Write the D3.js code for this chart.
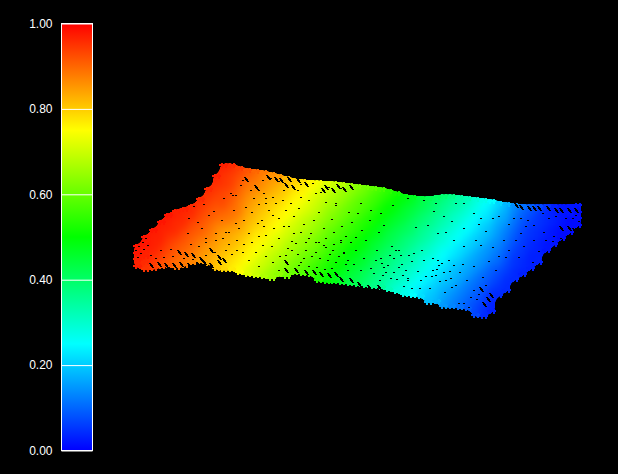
<!DOCTYPE html>
<html>
<head>
<meta charset="utf-8">
<script src="https://cdnjs.cloudflare.com/ajax/libs/d3/7.8.5/d3.min.js"></script>
<style>
    html, body { margin: 0; padding: 0; background: #000; overflow: hidden; }
    svg { display: block; }
</style>
</head>
<body>
<div class="chart"></div>
<script>
const barTicks = [0, 0.2, 0.4, 0.6, 0.8, 1];
const colorDomain = [0, 0.25, 0.5, 0.75, 1];
const colorStops = ['#0000ff', '#00ffff', '#00ff00', '#ffff00', '#ff0000'];

// height (above the lowest point) of the first sample of every scan column
const scanTop = [71,80,87,95,102,106,108,111,118,128,141,152,152,149,147,146,145,143,141,139,137,136,135,135,134,134,133,132,131,130,129,128,126,124,121,120,119,119,120,121,121,120,119,118,117,116,114,113,112,111,111,111,111,111,111,111,112];

// values of every scan column in percent, top sample first, one sample every rowStep
const scanValues = [
    [98,98,97,97],
    [98,98,97,97,96,95],
    [98,97,97,97,96,95,94],
    [98,97,97,97,96,95,94,92],
    [98,97,97,96,95,94,93,92,91],
    [97,97,96,96,95,93,92,91,90,89],
    [97,96,96,95,93,92,91,90,89,88],
    [96,96,95,93,92,91,90,89,88,87],
    [96,95,94,93,92,91,90,88,87,86,85],
    [96,95,94,93,92,91,90,89,88,86,85,84,83],
    [97,96,95,94,93,92,91,90,88,87,86,85,84,83,82,81],
    [97,96,95,95,94,93,93,92,90,89,87,85,84,83,82,81,80,79],
    [96,95,94,94,93,92,91,90,89,88,86,84,83,82,81,79,78,77],
    [94,93,92,91,90,89,88,88,87,85,84,82,81,80,78,77,76,75],
    [92,91,89,88,87,86,85,84,83,82,81,80,78,77,76,75,73,72],
    [90,89,88,87,85,84,83,82,81,80,78,77,76,75,74,72,71,70],
    [88,87,86,85,83,82,81,80,79,78,77,76,74,73,71,70,69,67],
    [86,85,84,83,81,80,79,78,77,76,74,73,72,70,69,68,66,65],
    [85,84,82,81,80,78,77,76,75,74,72,71,70,68,67,65,64],
    [82,81,80,79,77,76,75,74,72,71,70,68,67,66,64,63,61],
    [80,79,77,76,75,74,73,71,70,69,67,66,65,63,62,60],
    [78,77,76,75,73,72,70,69,68,66,65,64,62,61,60,58],
    [76,75,73,72,71,70,68,67,66,64,63,62,60,59,57,56],
    [74,73,71,70,69,68,66,65,64,62,61,60,58,57,55,54,53],
    [72,71,69,68,66,65,64,62,61,60,58,57,56,54,53,52,50],
    [70,69,67,66,65,63,62,61,59,58,56,55,54,52,51,50,48],
    [68,66,65,64,62,61,60,58,57,56,54,53,52,50,49,47,46],
    [65,64,63,61,60,59,57,56,55,53,52,50,49,48,46,45,43],
    [63,62,60,59,58,57,55,54,53,51,50,49,47,46,44,43,42],
    [61,60,58,57,56,54,53,52,50,49,48,46,45,44,42,41,39],
    [59,57,56,55,53,52,51,49,48,46,45,44,42,41,39,38,37],
    [57,55,54,52,51,50,48,47,46,44,43,41,40,39,37,36,35],
    [54,53,51,50,49,47,46,44,43,42,40,39,38,36,35,33,32],
    [52,50,49,48,46,45,43,42,41,39,38,36,35,34,32,31,29],
    [49,48,46,45,44,42,41,39,38,37,35,34,32,31,30,28,27],
    [47,46,44,43,41,40,39,37,36,34,33,32,30,29,27,26,25],
    [44,43,42,40,39,37,36,35,33,32,30,29,28,26,25,23,22],
    [42,41,40,38,37,35,34,33,31,30,28,27,26,24,23,21,20,19],
    [41,39,38,36,35,34,32,31,29,28,27,25,24,23,21,20,19,18],
    [39,37,36,35,33,32,30,29,28,26,25,24,22,21,20,18,17,16,15],
    [37,35,34,32,31,30,28,27,26,24,23,21,20,19,18,17,15,14,13],
    [34,33,32,30,29,27,26,25,23,22,21,19,18,17,16,14,13,12,11],
    [32,31,29,28,26,25,24,22,21,20,18,17,16,15,13,12,11,10,9],
    [29,28,27,25,24,23,21,20,19,17,16,15,14,12,11,10,9,8,7,7],
    [27,25,24,23,21,20,19,18,16,15,14,13,11,10,9,8,7,6,5,4],
    [25,23,22,21,19,18,17,15,14,13,12,10,9,8,7,5,4,3,3],
    [21,20,18,17,16,15,14,13,12,11,10,8,7,6,5,4],
    [18,17,16,15,13,12,11,10,9,8,7,6,5,4,4],
    [14,13,12,11,10,9,8,7,6,5,5,4,4],
    [11,10,9,8,7,6,6,5,5,4,4,3],
    [9,8,7,6,5,5,4,4,3,3,3],
    [7,6,5,5,4,4,3,3,3,3],
    [5,4,4,4,3,3,2,2],
    [3,3,3,3,2,2,2],
    [2,2,2,2,1,1],
    [2,2,1,1,1],
    [2,1,1,1]
];
const rowStep = 6;

// long slanted empty strokes near the cloud's edges: [distance along, height]
const scanRidges = [
    [17,53],[25,54],[32,53],[40,53],[47,54],[55,53],[64,54],[70,56],[77,53],[85,56],[45,66],[52,64],[59,63],[67,59],[77,68],[85,61],[90,58],
    [134,141],[142,139],[147,138],[155,139],[164,138],[172,134],[152,133],[159,131],[192,131],[204,132],[210,129],[217,131],[199,128],[189,128],[112,139],[122,131],
    [152,56],[152,48],[162,48],[172,46],[180,46],[187,44],[195,43],[202,44],[207,39],[217,38],[225,34],[235,31],[245,31],
    [382,113],[387,111],[395,110],[400,110],[405,110],[414,110],[422,108],[427,108],[435,108],[442,108],[427,90],[435,90],[440,88],[354,19],[350,14],[357,23],[347,29]
];

// single empty places inside the cloud: [distance along, height]
const scanGaps = [
    [4,59],[7,63],[10,67],[14,71],[2,66],[5,70],[9,74],[12,78],
    [22,58],[30,59],[39,60],[50,58],[59,57],[72,61],[81,64],[17,61],[27,66],[37,67],[95,72],[103,76],[89,78],[82,76],[95,84],[103,66],[72,74],[57,72],[65,70],
    [109,136],[129,136],[117,126],[130,123],[139,119],[149,116],[157,113],[167,119],[175,116],[182,123],[192,114],[202,113],[132,113],[120,118],[102,121],[97,123],[112,109],[150,126],[164,126],[179,133],[137,138],[145,135],[157,135],[167,132],[195,129],[207,128],
    [172,74],[162,73],[152,61],[167,54],[194,56],[202,54],[182,64],[192,69],[199,66],[210,64],[214,56],[222,66],[230,58],[237,48],[247,58],[254,51],[262,66],[267,61],[265,49],[260,44],[250,49],[269,41],[275,61],[274,38],[227,46],[214,46],[217,74],[207,74],[232,76],[257,38],[249,41],[242,56],[154,52],[165,51],[175,50],[183,49],[191,47],[198,48],
    [409,103],[415,98],[422,100],[380,98],[387,98],[394,96],[400,91],[387,83],[382,76],[370,76],[392,90],[412,76],[420,80],[427,78],[419,75],[432,98],[439,98],[445,95],[442,101],
    [349,39],[340,26],[330,13],[325,13],[317,38],[310,44],[305,51],[320,51],[315,56],[302,41],[342,76],[347,71],[359,69],[372,59],[385,59],[399,54],[362,46],[347,98],[359,98],[340,103],[322,113],[330,113],[304,83],[312,84],
    [187,124],[202,111],[215,104],[224,103],[237,106],[247,103],[259,111],[274,118],[290,116],[302,113],[227,113],[185,104],[167,84],[177,83],[192,78],[207,76],[222,79],[160,83],[154,68],[172,66],[190,71],[210,63],[250,91],[282,89],[294,91],[265,66],[280,63],[290,56],[304,56],[299,46],[287,36],[274,36],[260,58],
    [55,98],[64,94],[75,101],[90,118],[99,121],[107,131],[125,126],[132,118],[142,113],[110,96],[124,93],[139,101],[102,93],[92,84],[115,83],[132,81],[72,78],[54,83],[82,83],[139,54],[145,46],[122,64],[109,64],[129,71],
    [299,58],[303,47],[308,53],[312,36],[316,45],[322,31],[326,44],[298,40],[306,35],[329,52],[318,29],[333,36],[311,24],[296,28],[337,19],[343,17],[335,9],[345,22],[352,31],
    [243,66],[248,53],[252,44],[256,61],[263,37],[268,52],[272,46],[278,55],[284,45],[288,66],[292,40],[240,43],[246,36],[258,70],[286,28],[270,30],[278,28],
    [125,112],[135,106],[145,98],[152,106],[160,100],[170,92],[180,96],[190,88],[198,97],[208,90],[218,94],[228,86],[236,96],[245,84],[128,96],[118,104],[140,88],[150,90],[165,108],[175,78],[200,84],[212,80],[182,74],[145,78],[155,90],[130,90],
    [158,66],[164,62],[170,58],[178,60],[186,58],[196,62],[205,60],[212,52],[220,52],[158,75],[185,74],[200,72],
    [60,110],[70,112],[80,105],[68,88],[88,96],[100,106],[105,88],[118,74],[125,80],[110,72],[98,62],[115,56],[125,50],[132,60],[146,60],[138,70],[92,66],
    [300,105],[310,100],[318,95],[330,88],[345,92],[352,85],[365,100],[375,92],[320,76],[330,70],[365,60],[375,66],[355,55],[340,50],[390,70],[400,76],[410,84],[405,65]
];

const width = 618;
const height = 474;

const svg = d3.select('.chart')
    .append('svg')
    .attr('width', width)
    .attr('height', height)
    .style('background', '#000');

const color = d3.scaleLinear()
    .domain(colorDomain)
    .range(colorStops);

const defs = svg.append('defs');

// colour bar
const barScale = d3.scaleLinear().domain([0, 1]).range([450.5, 23.5]);

const grad = defs.append('linearGradient')
    .attr('id', 'bar')
    .attr('x1', 0).attr('x2', 0)
    .attr('y1', 1).attr('y2', 0);

grad.selectAll('stop')
    .data(colorDomain)
    .enter()
    .append('stop')
    .attr('offset', d => d)
    .attr('stop-color', d => color(d));

svg.append('rect')
    .attr('x', 61.5)
    .attr('y', barScale(1))
    .attr('width', 31)
    .attr('height', barScale(0) - barScale(1))
    .attr('fill', 'url(#bar)')
    .attr('stroke', '#fff');

const axis = svg.append('g')
    .attr('transform', 'translate(61.5,0)')
    .call(d3.axisLeft(barScale)
        .tickValues(barTicks)
        .tickFormat(d3.format('.2f'))
        .tickSize(-31)
        .tickPadding(9));

axis.select('.domain').remove();
axis.selectAll('line').attr('stroke', '#fff');
axis.selectAll('text')
    .attr('fill', '#fff')
    .style('font-family', '"Liberation Sans", Arial, sans-serif')
    .style('font-size', '12px');

// point cloud
const xScale = d3.scaleLinear().domain([0, scanTop.length - 1]).range([137, 577]);
const yScale = d3.scaleLinear().domain([0, 200]).range([318, 118]);
const gapX = d3.scaleLinear().domain([0, 448]).range([133, 581]);
const gapY = d3.scaleLinear().domain([0, 200]).range([316, 116]);

const samples = scanValues.flatMap((col, i) =>
    col.map((v, r) => ({
        col: i,
        h: scanTop[i] - r * rowStep,
        value: v / 100,
        edge: r === 0 ? -1 : r === col.length - 1 ? 1 : 0
    })));

const plus = d => {
    const x = Math.round(xScale(d.col)), y = yScale(d.h);
    return `M${x - 4},${y - 3}h3v-2h3v2h3v6h-3v2h-3v-2h-3z`;
};

// blend neighbouring samples, then harden the outline again
const soften = defs.append('filter')
    .attr('id', 'soften')
    .attr('color-interpolation-filters', 'sRGB')
    .attr('x', 100).attr('y', 130)
    .attr('width', 500).attr('height', 210)
    .attr('filterUnits', 'userSpaceOnUse');

soften.append('feGaussianBlur').attr('stdDeviation', 3);
soften.append('feComponentTransfer')
    .append('feFuncA')
    .attr('type', 'linear')
    .attr('slope', 20)
    .attr('intercept', -12);

svg.append('g')
    .attr('filter', 'url(#soften)')
    .selectAll('path')
    .data(samples)
    .enter()
    .append('path')
    .attr('d', plus)
    .attr('fill', d => color(d.value));

// small crosses where the outline samples stick out of the cloud
const edgeCross = (d, shift) => {
    const x = Math.round(xScale(d.col)) + shift, y = yScale(d.h) + d.edge;
    return `M${x - 2},${y - 1}h1.5v-1.5h2v1.5h1.5v2h-1.5v1.5h-2v-1.5h-1.5z`;
};

const outline = samples.filter(d => d.edge !== 0 || d.col < 2 || d.col > 54);

[-2, 2].forEach(shift => {
    svg.append('g')
        .attr('shape-rendering', 'crispEdges')
        .selectAll('path')
        .data(outline)
        .enter()
        .append('path')
        .attr('d', d => edgeCross(d, shift))
        .attr('fill', d => color(d.value));
});

svg.append('g')
    .attr('stroke', '#000')
    .attr('stroke-width', 2)
    .attr('shape-rendering', 'crispEdges')
    .selectAll('line')
    .data(scanRidges)
    .enter()
    .append('line')
    .attr('x1', d => gapX(d[0]))
    .attr('y1', d => gapY(d[1]))
    .attr('x2', d => gapX(d[0]) + 3)
    .attr('y2', d => gapY(d[1]) + 5);

svg.append('g')
    .attr('shape-rendering', 'crispEdges')
    .selectAll('rect')
    .data(scanGaps)
    .enter()
    .append('rect')
    .attr('x', d => gapX(d[0]))
    .attr('y', d => gapY(d[1]))
    .attr('width', 2)
    .attr('height', 1)
    .attr('fill', '#000');
</script>
</body>
</html>
